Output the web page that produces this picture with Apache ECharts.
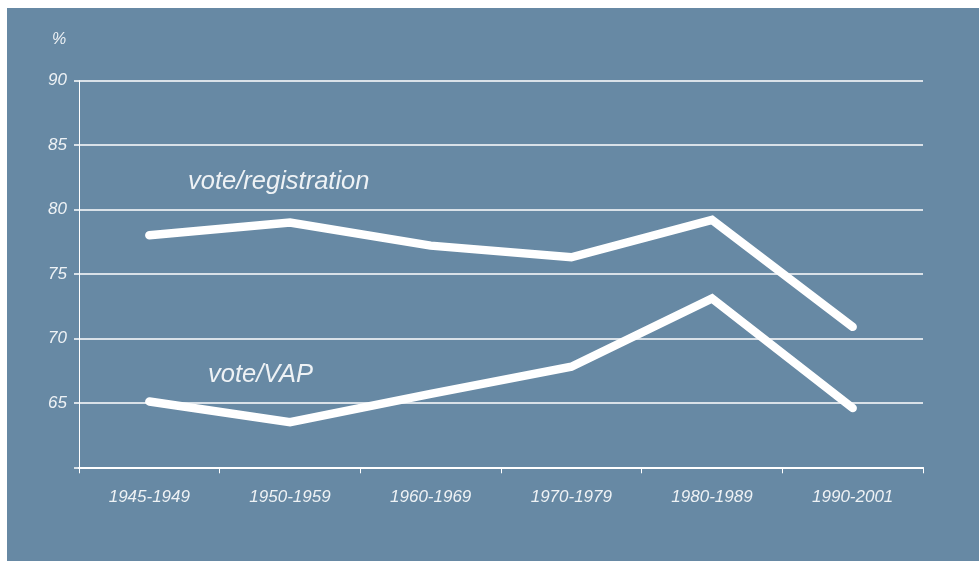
<!DOCTYPE html>
<html>
<head>
<meta charset="utf-8">
<script src="https://cdn.jsdelivr.net/npm/echarts@6/dist/echarts.min.js"></script>
<style>
html,body{margin:0;padding:0;background:#ffffff;}
#chart{width:979px;height:561px;}
</style>
</head>
<body>
<div id="chart"></div>
<script>
const categories = ['1945-1949','1950-1959','1960-1969','1970-1979','1980-1989','1990-2001'];
const voteRegistration = [78.0, 79.0, 77.2, 76.3, 79.2, 70.9];
const voteVAP = [65.1, 63.5, 65.7, 67.8, 73.1, 64.6];
const yTickLabels = ['65','70','75','80','85','90'];

const chart = echarts.init(document.getElementById('chart'));
const labelColor = '#eef2f5';
const font = 'Liberation Sans, Arial, sans-serif';

chart.setOption({
  backgroundColor: '#ffffff',
  animation: false,
  graphic: [
    { type: 'rect', z: -10, shape: { x: 7, y: 8, width: 972, height: 553 }, style: { fill: '#6789a4' } },
    { type: 'text', z: 10, left: 52, top: 32, style: { text: '%', fill: labelColor, font: 'italic 16px ' + font } },
    { type: 'text', z: 10, left: 188, top: 169, style: { text: 'vote/registration', fill: labelColor, font: 'italic 25.5px ' + font } },
    { type: 'text', z: 10, left: 208, top: 362, style: { text: 'vote/VAP', fill: labelColor, font: 'italic 25.5px ' + font } }
  ],
  grid: { left: 79, right: 56, top: 80.7, bottom: 93.7, containLabel: false },
  xAxis: {
    type: 'category',
    data: categories,
    boundaryGap: true,
    axisLine: { show: true, lineStyle: { color: '#ffffff', width: 2 } },
    axisTick: { show: true, length: 6, lineStyle: { color: '#ffffff', width: 1 } },
    axisLabel: { color: labelColor, fontStyle: 'italic', fontSize: 17, fontFamily: font, margin: 21 },
    splitLine: { show: false }
  },
  yAxis: {
    type: 'value',
    min: 60, max: 90, interval: 5,
    axisLine: { show: true, lineStyle: { color: '#ffffff', width: 1 } },
    axisTick: { show: true, length: 5, lineStyle: { color: '#ffffff', width: 1.5 } },
    axisLabel: {
      color: labelColor, fontStyle: 'italic', fontSize: 17, fontFamily: font, margin: 12,
      formatter: function (v) { const s = String(v); return yTickLabels.indexOf(s) >= 0 ? s : ''; }
    },
    splitLine: { show: true, lineStyle: { color: '#ffffff', width: 1.5 } }
  },
  series: [
    {
      name: 'vote/registration', type: 'line', data: voteRegistration,
      symbol: 'none', lineStyle: { color: '#ffffff', width: 8.5, cap: 'round', join: 'miter' }
    },
    {
      name: 'vote/VAP', type: 'line', data: voteVAP,
      symbol: 'none', lineStyle: { color: '#ffffff', width: 8.5, cap: 'round', join: 'miter' }
    }
  ]
});
</script>
</body>
</html>
